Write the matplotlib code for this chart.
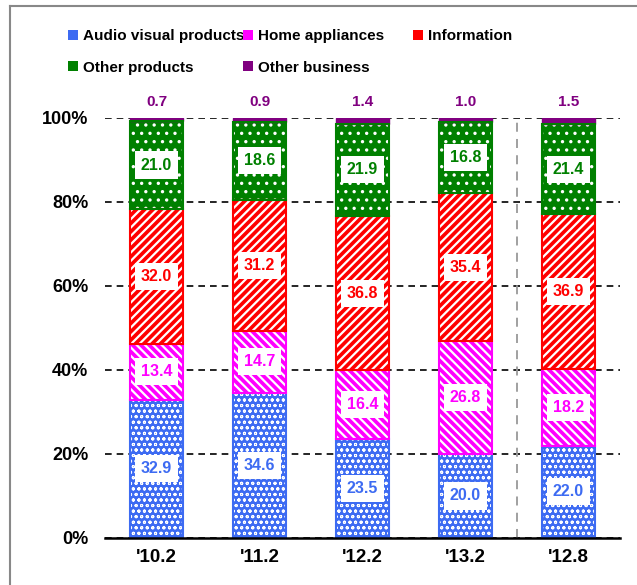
import matplotlib
matplotlib.use("Agg")
import matplotlib.pyplot as plt
from matplotlib.patches import Patch
from matplotlib.lines import Line2D
import numpy as np

plt.rcParams['font.family'] = ['Liberation Sans', 'DejaVu Sans']
plt.rcParams['font.weight'] = 'bold'

categories = ["'10.2", "'11.2", "'12.2", "'13.2", "'12.8"]
series_names = ["Audio visual products", "Home appliances", "Information",
                "Other products", "Other business"]
audio_visual = [32.9, 34.6, 23.5, 20.0, 22.0]
home_appliances = [13.4, 14.7, 16.4, 26.8, 18.2]
information = [32.0, 31.2, 36.8, 35.4, 36.9]
other_products = [21.0, 18.6, 21.9, 16.8, 21.4]
other_business = [0.7, 0.9, 1.4, 1.0, 1.5]
yticks = [0, 20, 40, 60, 80, 100]

series = [audio_visual, home_appliances, information, other_products, other_business]
colors = ["#3D6BF2", "#FF00FF", "#FF0000", "#008000", "#800080"]
hatches = ["ooo", "\\\\\\\\", "////", "..", None]
hatch_lw = [0.7, 1.6, 1.6, 1.2, 1.0]

fig = plt.figure(figsize=(6.37, 5.85), dpi=100)
ax = fig.add_axes([105/637, 1-538/585, 515/637, 420/585])

x = np.arange(len(categories))
width = 0.515
bottom = np.zeros(len(categories))
for vals, col, h, hl in zip(series, colors, hatches, hatch_lw):
    vals = np.array(vals)
    if h:
        with plt.rc_context({'hatch.linewidth': hl}):
            ax.bar(x, vals, width, bottom=bottom, color=col, edgecolor='white',
                   hatch=h, linewidth=0, zorder=3)
        ax.bar(x, vals, width, bottom=bottom, fill=False, edgecolor=col,
               linewidth=1.5, zorder=4)
    else:
        ax.bar(x, vals, width, bottom=bottom, color=col, edgecolor=col,
               linewidth=1, zorder=3)
    bottom += vals

# value labels
bottom = np.zeros(len(categories))
for i, (vals, col) in enumerate(zip(series, colors)):
    vals = np.array(vals)
    for j in range(len(categories)):
        if i < 4:
            ax.text(x[j], bottom[j] + vals[j] / 2, f"{vals[j]:.1f}", ha='center',
                    va='center', color=col, fontsize=11.5, fontweight='bold',
                    zorder=6,
                    bbox=dict(boxstyle='square,pad=0.38', facecolor='white',
                              edgecolor='none'))
        else:
            ax.text(x[j], 103.8, f"{vals[j]:.1f}", ha='center', va='center',
                    color=col, fontsize=11, fontweight='bold', clip_on=False)
    bottom += vals

ax.set_xlim(-0.5, 4.5)
ax.set_ylim(0, 100)
ax.set_yticks(yticks)
ax.set_yticklabels([f"{v}%" for v in yticks], fontsize=13, fontweight='bold')
ax.set_xticks(x)
ax.set_xticklabels(categories, fontsize=13.5, fontweight='bold')
ax.tick_params(axis='y', length=0, pad=12)
ax.tick_params(axis='x', length=0, pad=8)
for s in ['left', 'right', 'top']:
    ax.spines[s].set_visible(False)
ax.spines['bottom'].set_linewidth(1.8)
ax.spines['bottom'].set_zorder(7)
ax.yaxis.grid(True, color='black', linestyle=(0, (4, 3)), linewidth=1.2, zorder=0)
ax.set_axisbelow(True)
ax.axvline(3.5, color='#999999', linestyle=(0, (5, 4)), linewidth=1.3, zorder=1)

# legend, one per column
handles = []
for name, col in zip(series_names, colors):
    handles.append(Patch(facecolor=col, edgecolor=col, linewidth=0, label=name))
col_groups = [[0, 3], [1, 4], [2]]
col_x = [68/637, 243/637, 413/637]
for gx, grp in zip(col_x, col_groups):
    leg = fig.legend([handles[k] for k in grp], [series_names[k] for k in grp],
                     loc='upper left', bbox_to_anchor=(gx, 1 - 29/585),
                     frameon=False, fontsize=11, handlelength=0.65,
                     handleheight=0.65, handletextpad=0.3, labelspacing=1.15,
                     borderpad=0, borderaxespad=0)
    for t in leg.get_texts():
        t.set_fontweight('bold')

# outer border (partially cropped)
fig.add_artist(Line2D([10/637, 10/637], [0, 1 - 6/585], color='#888888',
                      linewidth=1.5, transform=fig.transFigure))
fig.add_artist(Line2D([10/637, 1], [1 - 6/585, 1 - 6/585], color='#888888',
                      linewidth=1.5, transform=fig.transFigure))

fig.savefig("out.png", dpi=100)
